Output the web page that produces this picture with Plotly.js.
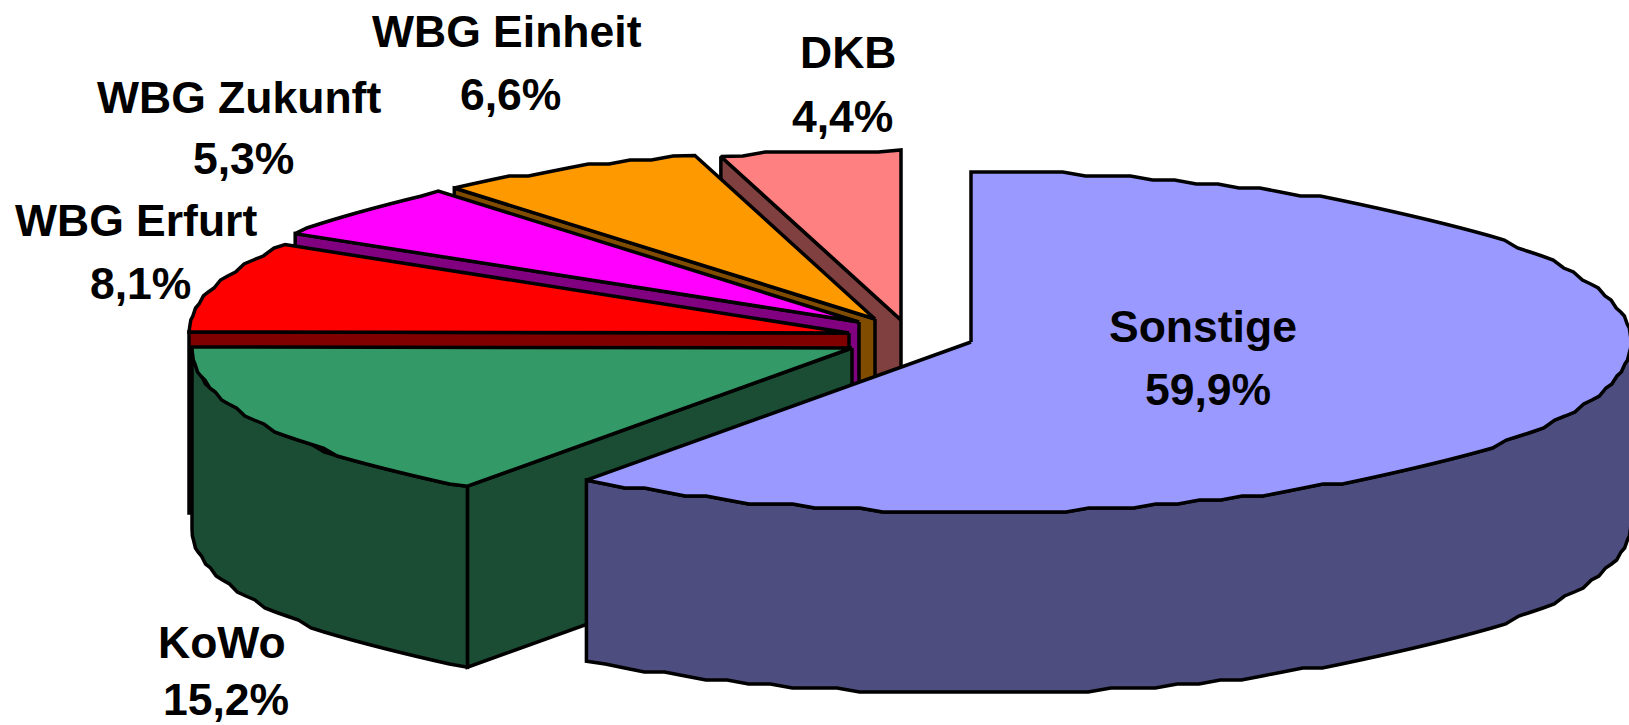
<!DOCTYPE html>
<html><head><meta charset="utf-8">
<script src="https://cdn.plot.ly/plotly-3.0.1.min.js"></script>
<style>html,body{margin:0;padding:0;background:#fff;overflow:hidden}</style>
</head><body><div id="chart" style="width:1629px;height:725px"></div>
<script>
const categories = ['Sonstige','KoWo','WBG Erfurt','WBG Zukunft','WBG Einheit','DKB'];
const shares = [59.9,15.2,8.1,5.3,6.6,4.4];
const shareLabels = ['59,9%','15,2%','8,1%','5,3%','6,6%','4,4%'];
const topColors = ['#9999FF','#339966','#FF0000','#FF00FF','#FF9900','#FF8080'];
const wallColors = ['#4D4D80','#1A4D33','#800000','#800080','#804D00','#804040'];

// pie geometry
const RX = 660, RY = 170, DEPTH = 181;
const hubs = [[971,342],[852,348],[849,333],[859,322],[875,319],[901,320]];
const namePos = [[1203,326],[222,642],[136,220],[239,97],[507,31],[848,52]];
const valuePos = [[1208,389],[226,699],[140,283],[243,158],[510,94],[842,116]];
const FONT_SIZE = 44.5;
const GRID = 4;   // the source's edge is stair-stepped from low-resolution rendering

// the printed shares are rounded and fall short of 100: the remainder widens the third slice
const remainder = 100 - shares.reduce((a,b)=>a+b,0);
let acc = 0;
const spans = shares.map((s,i)=>{
  const a=acc; acc+=(s+(i===2?remainder:0))/100*2*Math.PI; return [a,acc];
});
const rim = (hub,t,drop=0)=>[hub[0]+RX*Math.sin(t), hub[1]-RY*Math.cos(t)+drop];
const snap = p=>[p[0], Math.round(p[1]/GRID)*GRID];
function arc(hub,a,b,drop=0){
  const n=Math.max(2,Math.ceil((b-a)/0.035)), out=[];
  for(let i=0;i<=n;i++){
    const p=rim(hub,a+(b-a)*i/n,drop);
    out.push(i===0||i===n?p:snap(p));
  }
  return out;
}
const traces=[];
function poly(pts,color){
  const closed=pts.concat([pts[0]]);
  traces.push({type:'scatter',mode:'lines',x:closed.map(p=>p[0]),y:closed.map(p=>p[1]),
    fill:'toself',fillcolor:color,line:{color:'#000',width:3.5,simplify:false},hoverinfo:'skip',showlegend:false});
}
// back to front: DKB ... Sonstige
for(let i=categories.length-1;i>=0;i--){
  const hub=hubs[i],[a,b]=spans[i];
  const r0=rim(hub,a);
  if(i>0) poly([hub,r0,[r0[0],r0[1]+DEPTH],[hub[0],hub[1]+DEPTH]],wallColors[i]);
  const lo=Math.max(a,Math.PI/2), hi=Math.min(b,1.5*Math.PI);
  if(hi>lo) poly(arc(hub,lo,hi).concat(arc(hub,lo,hi,DEPTH).reverse()),wallColors[i]);
  poly([hub].concat(arc(hub,a,b)),topColors[i]);
}
const font={family:'Liberation Sans, Arial, sans-serif',size:FONT_SIZE,color:'#000',weight:700};
const annotations=[];
categories.forEach((c,i)=>{
  annotations.push({x:namePos[i][0],y:namePos[i][1],xref:'x',yref:'y',text:c,showarrow:false,font});
  annotations.push({x:valuePos[i][0],y:valuePos[i][1],xref:'x',yref:'y',text:shareLabels[i],showarrow:false,font});
});
Plotly.newPlot('chart',traces,{
  width:1629,height:725,margin:{l:0,r:0,t:0,b:0},paper_bgcolor:'#fff',plot_bgcolor:'#fff',showlegend:false,
  xaxis:{range:[0,1629],visible:false,fixedrange:true},
  yaxis:{range:[725,0],visible:false,fixedrange:true},
  annotations
},{displayModeBar:false,staticPlot:true});
</script></body></html>
